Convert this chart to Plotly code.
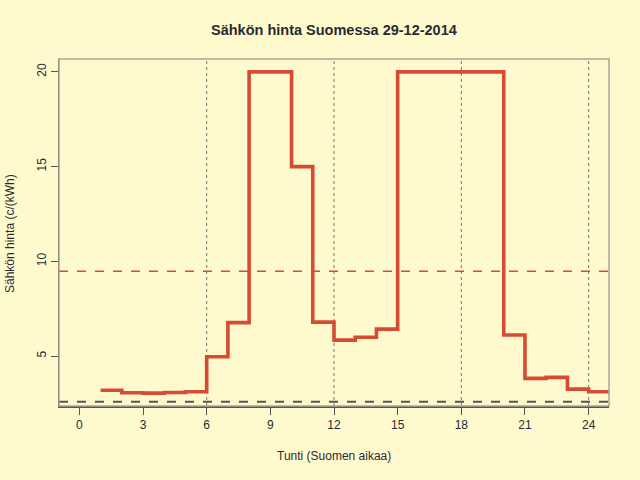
import plotly.graph_objects as go

# Data: hourly electricity prices (c/kWh), hour 1..24 step starts, last value repeated to 25
hours = list(range(1, 26))
prices = [3.19, 3.06, 3.04, 3.07, 3.11, 4.96, 6.76, 20.0, 20.0, 15.0, 6.79, 5.84,
          5.99, 6.42, 20.0, 20.0, 20.0, 20.0, 20.0, 6.11, 3.82, 3.87, 3.25, 3.11]
prices_step = prices + [prices[-1]]
mean_price = sum(prices) / len(prices)
base_price = 2.58
vlines = [6, 12, 18, 24]
xticks = [0, 3, 6, 9, 12, 15, 18, 21, 24]
yticks = [5, 10, 15, 20]

BG = "#FFFACD"
TXT = "#2a2a33"
LINE = "#D64B32"

W, H = 640, 480
ML, MR, MT, MB = 59, 31, 59, 74
PW, PH = W - ML - MR, H - MT - MB

fig = go.Figure()

fig.add_trace(go.Scatter(
    x=hours, y=prices_step, mode="lines", line_shape="hv",
    line=dict(color=LINE, width=3.6), hoverinfo="skip", showlegend=False))

shapes = []
for v in vlines:
    shapes.append(dict(type="line", xref="x", yref="paper", x0=v, x1=v, y0=0, y1=1,
                       line=dict(color="#777777", width=1, dash="dot"), layer="below"))
shapes.append(dict(type="line", xref="paper", yref="y", x0=0, x1=1, y0=mean_price, y1=mean_price,
                   line=dict(color="#C4504A", width=1.5, dash="dash")))
shapes.append(dict(type="line", xref="paper", yref="y", x0=0, x1=1, y0=base_price, y1=base_price,
                   line=dict(color="#555555", width=2, dash="dash")))
shapes.append(dict(type="rect", xref="paper", yref="paper", x0=0, x1=1, y0=0, y1=1,
                   line=dict(color="#AAA595", width=1.5), layer="above"))

annotations = [
    dict(text="<b>Sähkön hinta Suomessa 29-12-2014</b>", xref="paper", yref="paper",
         x=(334 - ML) / PW, y=1 + (MT - 30) / PH, xanchor="center", yanchor="middle",
         showarrow=False, font=dict(size=14.5, color=TXT)),
    dict(text="Tunti (Suomen aikaa)", xref="paper", yref="paper",
         x=(334 - ML) / PW, y=-(456 - (MT + PH)) / PH, xanchor="center", yanchor="middle",
         showarrow=False, font=dict(size=12, color=TXT)),
    dict(text="Sähkön hinta (c/(kWh)", xref="paper", yref="paper", textangle=-90,
         x=-(ML - 10) / PW, y=1 - (234 - MT) / PH, xanchor="center", yanchor="middle",
         showarrow=False, font=dict(size=12, color=TXT)),
]

fig.update_layout(
    width=W, height=H,
    paper_bgcolor=BG, plot_bgcolor=BG,
    margin=dict(l=ML, r=MR, t=MT, b=MB, autoexpand=False),
    font=dict(family="Liberation Sans, Arial, sans-serif", size=12, color=TXT),
    shapes=shapes, annotations=annotations,
    showlegend=False, hovermode=False,
)

fig.update_xaxes(
    range=[-0.96, 24.96], tickvals=xticks, ticktext=[str(t) for t in xticks],
    showgrid=False, zeroline=False, showline=True, linecolor="#555555", linewidth=1.5,
    ticks="outside", ticklen=7, tickcolor="#555555", tickwidth=1, automargin=False,
    tickfont=dict(size=12, color=TXT),
)
fig.update_yaxes(
    range=[2.36, 20.68], tickvals=yticks, ticktext=[str(t) for t in yticks],
    showgrid=False, zeroline=False, showline=True, linecolor="#555555", linewidth=1.5,
    ticks="outside", ticklen=7, tickcolor="#555555", tickwidth=1, tickangle=-90,
    automargin=False, tickfont=dict(size=12, color=TXT),
)

fig.write_html(
    "out.html",
    config={"displayModeBar": False, "staticPlot": True},
    post_script="document.body.style.margin='0';document.body.style.overflow='hidden';"
                "document.body.style.background='" + BG + "';",
)
